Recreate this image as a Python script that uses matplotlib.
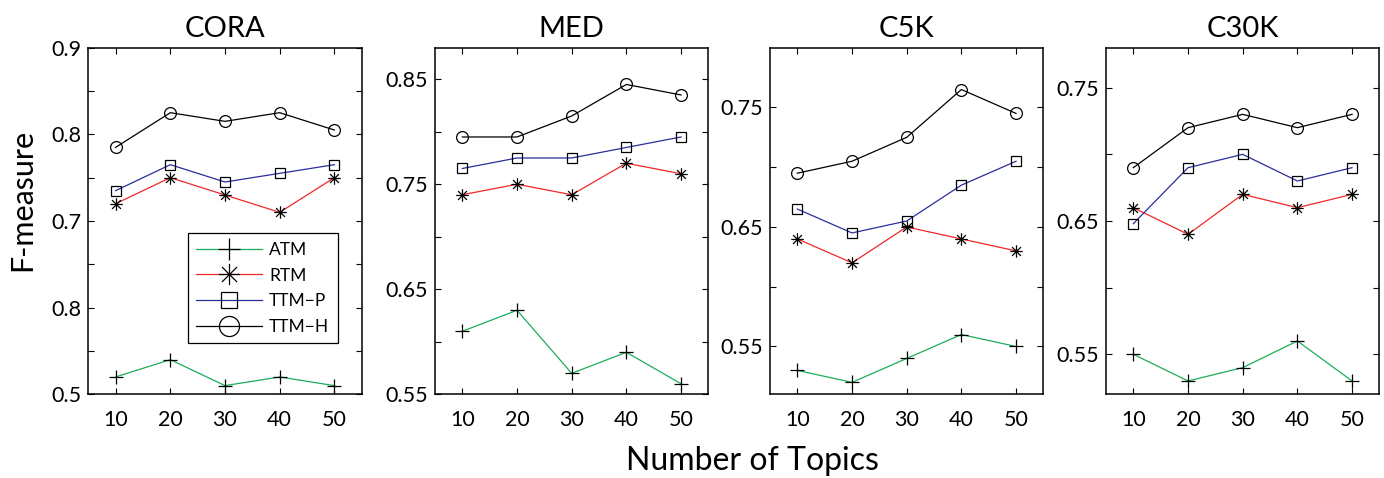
import numpy as np
import matplotlib
matplotlib.use('Agg')
import matplotlib.pyplot as plt
from matplotlib.path import Path

plt.rcParams['font.family'] = ['Lato', 'DejaVu Sans']

# data
topics = [10, 20, 30, 40, 50]
datasets = ['CORA', 'MED', 'C5K', 'C30K']
methods = ['ATM', 'RTM', 'TTM\u2212P', 'TTM\u2212H']

# one row per dataset (CORA, MED, C5K, C30K)
atm = [[0.52, 0.54, 0.51, 0.52, 0.51],
       [0.61, 0.63, 0.57, 0.59, 0.56],
       [0.53, 0.52, 0.54, 0.56, 0.55],
       [0.55, 0.53, 0.54, 0.56, 0.53]]
rtm = [[0.72, 0.75, 0.73, 0.71, 0.75],
       [0.74, 0.75, 0.74, 0.77, 0.76],
       [0.64, 0.62, 0.65, 0.64, 0.63],
       [0.66, 0.64, 0.67, 0.66, 0.67]]
ttm_p = [[0.735, 0.765, 0.745, 0.755, 0.765],
         [0.765, 0.775, 0.775, 0.785, 0.795],
         [0.665, 0.645, 0.655, 0.685, 0.705],
         [0.648, 0.69, 0.70, 0.68, 0.69]]
ttm_h = [[0.785, 0.825, 0.815, 0.825, 0.805],
         [0.795, 0.795, 0.815, 0.845, 0.835],
         [0.695, 0.705, 0.725, 0.765, 0.745],
         [0.69, 0.72, 0.73, 0.72, 0.73]]

yticks = [[0.5, 0.55, 0.6, 0.65, 0.7, 0.75, 0.8, 0.85, 0.9],
          [0.55, 0.6, 0.65, 0.7, 0.75, 0.8, 0.85],
          [0.55, 0.6, 0.65, 0.7, 0.75],
          [0.55, 0.6, 0.65, 0.7, 0.75]]
ytick_labels = [['0.5', '', '0.8', '', '0.7', '', '0.8', '', '0.9'],
                ['0.55', '', '0.65', '', '0.75', '', '0.85'],
                ['0.55', '', '0.65', '', '0.75'],
                ['0.55', '', '0.65', '', '0.75']]

ylims = [(0.5, 0.9), (0.55, 0.88), (0.51, 0.80), (0.52, 0.78)]
lefts = [88.3, 435, 770, 1106]

# matlab style asterisk: + and x overlaid
verts, codes = [], []
for a in np.deg2rad([0, 45, 90, 135]):
    verts += [(-np.cos(a), -np.sin(a)), (np.cos(a), np.sin(a))]
    codes += [Path.MOVETO, Path.LINETO]
asterisk = Path(verts, codes)

colors = ['#1aae5a', '#f02828', '#2a2e9c', 'black']
markers = ['+', asterisk, 's', 'o']
msizes = [9.5, 9, 7, 8.5]

W, H = 1384, 478
fig = plt.figure(figsize=(W / 100, H / 100), dpi=100)

for i, name in enumerate(datasets):
    ax = fig.add_axes([lefts[i] / W, 1 - 394.3 / H, 273.4 / W, 346.6 / H])
    series = [atm[i], rtm[i], ttm_p[i], ttm_h[i]]
    for j, vals in enumerate(series):
        ax.plot(topics, vals, color=colors[j], lw=0.9, marker=markers[j],
                ms=msizes[j], mfc='none', mec='black', mew=0.9,
                label=methods[j])
    ax.set_xlim(5, 55)
    ax.set_ylim(*ylims[i])
    ax.set_xticks(topics)
    ax.set_yticks(yticks[i])
    ax.set_yticklabels(ytick_labels[i])
    ax.tick_params(direction='in', top=True, right=True, length=4,
                   width=0.8, labelsize=15.5)
    ax.tick_params(axis='x', pad=11)
    ax.tick_params(axis='y', pad=5)
    for s in ax.spines.values():
        s.set_linewidth(1.1)
    ax.set_title(name, fontsize=21, pad=8)
    if i == 0:
        leg = ax.legend(loc='lower right', bbox_to_anchor=(0.945, 0.122),
                        fontsize=12.5, handlelength=3.8, markerscale=1.7,
                        fancybox=False, framealpha=1, edgecolor='black',
                        borderpad=0.5, labelspacing=0.55, handletextpad=0.4)
        leg.get_frame().set_linewidth(0.9)

fig.text(22 / W, 1 - 200 / H, 'F-measure', rotation=90, fontsize=22,
         ha='center', va='center')
fig.text(752 / W, 1 - 461 / H, 'Number of Topics', fontsize=23,
         ha='center', va='center')

fig.savefig('out.png', dpi=100)
